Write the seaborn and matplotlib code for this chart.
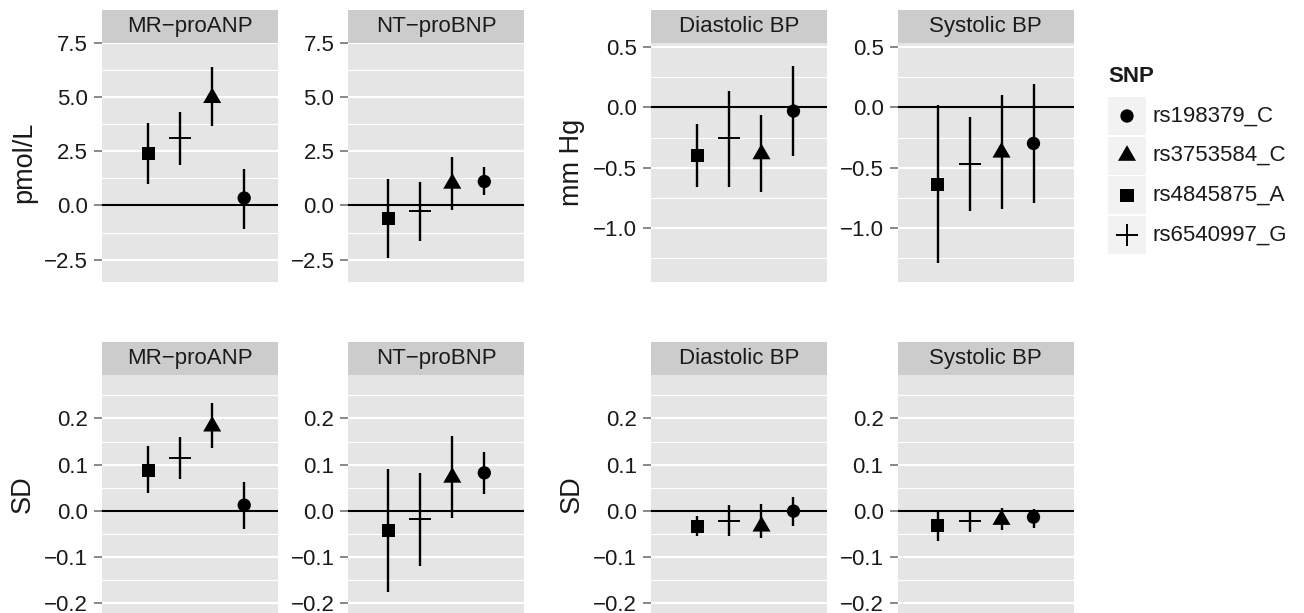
import numpy as np
import pandas as pd
import matplotlib
matplotlib.use("Agg")
from matplotlib import pyplot as plt
from matplotlib.ticker import MultipleLocator, FuncFormatter
import seaborn as sns

# SNPs in the left-to-right order used inside each panel
snp_order = ["rs4845875_A", "rs6540997_G", "rs3753584_C", "rs198379_C"]
legend_order = ["rs198379_C", "rs3753584_C", "rs4845875_A", "rs6540997_G"]

# absolute effects (pmol/L and mm Hg)
mr_abs = [2.39, 3.12, 4.96, 0.34]
mr_abs_lo = [1.00, 1.85, 3.66, -1.08]
mr_abs_hi = [3.78, 4.32, 6.36, 1.70]
nt_abs = [-0.61, -0.26, 1.01, 1.10]
nt_abs_lo = [-2.42, -1.64, -0.20, 0.49]
nt_abs_hi = [1.20, 1.10, 2.25, 1.76]
dbp_abs = [-0.40, -0.25, -0.386, -0.03]
dbp_abs_lo = [-0.66, -0.66, -0.70, -0.40]
dbp_abs_hi = [-0.14, 0.14, -0.06, 0.34]
sbp_abs = [-0.635, -0.467, -0.372, -0.298]
sbp_abs_lo = [-1.29, -0.86, -0.84, -0.79]
sbp_abs_hi = [0.02, -0.08, 0.10, 0.19]

# standardised effects (SD)
mr_sd = [0.088, 0.114, 0.183, 0.012]
mr_sd_lo = [0.038, 0.068, 0.136, -0.040]
mr_sd_hi = [0.140, 0.159, 0.234, 0.063]
nt_sd = [-0.042, -0.019, 0.072, 0.082]
nt_sd_lo = [-0.176, -0.119, -0.015, 0.036]
nt_sd_hi = [0.090, 0.081, 0.163, 0.127]
dbp_sd = [-0.035, -0.022, -0.034, -0.001]
dbp_sd_lo = [-0.056, -0.056, -0.060, -0.033]
dbp_sd_hi = [-0.012, 0.012, 0.014, 0.029]
sbp_sd = [-0.033, -0.022, -0.0195, -0.014]
sbp_sd_lo = [-0.066, -0.046, -0.042, -0.038]
sbp_sd_hi = [-0.001, -0.002, 0.005, 0.004]

# marker style per SNP: (marker, area pt^2, linewidth)
marker_style = {
    "rs198379_C": ("o", 92, 0),
    "rs3753584_C": ((3, 0, 0), 225, 0),
    "rs4845875_A": ("s", 88, 0),
    "rs6540997_G": ("+", 256, 1.4),
}

PANEL_BG = "#e5e5e5"
STRIP_BG = "#cccccc"
TEXT = "#1a1a1a"

sns.set_style("white")
plt.rcParams["font.family"] = ["Liberation Sans", "DejaVu Sans"]
plt.rcParams["axes.unicode_minus"] = True

W, H = 1304, 613
fig = plt.figure(figsize=(W / 100, H / 100), dpi=100)


def px_axes(left, top, right, bottom):
    return fig.add_axes([left / W, 1 - bottom / H, (right - left) / W, (bottom - top) / H])


def fmt(v, pos):
    if abs(v) < 1e-9:
        v = 0.0
    return f"{v:.1f}".replace("-", "\u2212")


def draw_panel(ax, est, lo, hi, ylim, step, xlim):
    df = pd.DataFrame({"SNP": snp_order, "pos": np.arange(1, len(snp_order) + 1),
                       "est": est, "lo": lo, "hi": hi})
    ax.set_facecolor(PANEL_BG)
    # ggplot-like grid: thick major, thin minor
    ax.yaxis.set_major_locator(MultipleLocator(step))
    ax.yaxis.set_minor_locator(MultipleLocator(step / 2))
    ax.grid(which="major", axis="y", color="white", lw=1.6, zorder=0)
    ax.grid(which="minor", axis="y", color="white", lw=0.8, zorder=0)
    ax.set_axisbelow(True)
    ax.axhline(0, color="black", lw=1.5, zorder=2)
    ax.vlines(df["pos"], df["lo"], df["hi"], color="black", lw=1.7, zorder=3)
    for snp in snp_order:
        mk, s, lw = marker_style[snp]
        sub = df[df["SNP"] == snp]
        if lw:
            sns.scatterplot(data=sub, x="pos", y="est", marker=mk, s=s, color="black",
                            linewidth=lw, ax=ax, zorder=4, legend=False)
        else:
            sns.scatterplot(data=sub, x="pos", y="est", marker=mk, s=s, color="black",
                            edgecolor="none", linewidth=0, ax=ax, zorder=4, legend=False)
    ax.set_xlim(*xlim)
    ax.set_ylim(*ylim)
    ax.yaxis.set_major_formatter(FuncFormatter(fmt))
    ax.tick_params(axis="y", which="major", length=6, width=1.3, color="#7f7f7f",
                   labelsize=16, labelcolor=TEXT, pad=4, left=True)
    ax.tick_params(axis="y", which="minor", length=0)
    ax.set_xticks([])
    ax.set_xlabel("")
    ax.set_ylabel("")
    for sp in ax.spines.values():
        sp.set_visible(False)


def draw_strip(left, top, right, bottom, title):
    sax = px_axes(left, top, right, bottom)
    sax.set_facecolor(STRIP_BG)
    sax.set_xticks([])
    sax.set_yticks([])
    for sp in sax.spines.values():
        sp.set_visible(False)
    sax.text(0.5, 0.5, title, ha="center", va="center", fontsize=16, color=TEXT,
             transform=sax.transAxes)


columns = [(101.7, 277.7), (348.3, 524.3), (651.0, 827.0), (897.5, 1073.5)]
xlims = [(-0.453, 5.047), (-0.25, 5.25), (-0.453, 5.047), (-0.25, 5.25)]
rows = [((10, 42.7), (42.7, 282)), ((342.3, 375.3), (375.3, 613))]

panels = [
    (0, 0, "MR\u2212proANP", mr_abs, mr_abs_lo, mr_abs_hi, (-3.53, 7.5), 2.5),
    (0, 1, "NT\u2212proBNP", nt_abs, nt_abs_lo, nt_abs_hi, (-3.53, 7.5), 2.5),
    (0, 2, "Diastolic BP", dbp_abs, dbp_abs_lo, dbp_abs_hi, (-1.445, 0.536), 0.5),
    (0, 3, "Systolic BP", sbp_abs, sbp_abs_lo, sbp_abs_hi, (-1.445, 0.536), 0.5),
    (1, 0, "MR\u2212proANP", mr_sd, mr_sd_lo, mr_sd_hi, (-0.222, 0.2937), 0.1),
    (1, 1, "NT\u2212proBNP", nt_sd, nt_sd_lo, nt_sd_hi, (-0.222, 0.2937), 0.1),
    (1, 2, "Diastolic BP", dbp_sd, dbp_sd_lo, dbp_sd_hi, (-0.222, 0.2937), 0.1),
    (1, 3, "Systolic BP", sbp_sd, sbp_sd_lo, sbp_sd_hi, (-0.222, 0.2937), 0.1),
]

for r, c, title, est, lo, hi, ylim, step in panels:
    (st, sb), (pt, pb) = rows[r]
    left, right = columns[c]
    ax = px_axes(left, pt, right, pb)
    draw_panel(ax, est, lo, hi, ylim, step, xlims[c])
    draw_strip(left, st, right, sb, title)

# y axis titles
for x, y, label in [(24, 162, "pmol/L"), (572, 162, "mm Hg"), (23, 494, "SD"), (572, 494, "SD")]:
    fig.text(x / W, 1 - y / H, label, rotation=90, ha="center", va="center",
             fontsize=19.5, color=TEXT)

# legend drawn by hand to get ggplot-style key boxes
lax = px_axes(1100, 60, 1300, 260)
lax.set_xlim(1100, 1300)
lax.set_ylim(260, 60)
lax.axis("off")
lax.text(1108, 77, "SNP", fontsize=16, fontweight="bold", color=TEXT, va="center", ha="left")
for i, snp in enumerate(legend_order):
    yc = 116 + 39.6 * i
    lax.add_patch(plt.Rectangle((1108, yc - 19), 37.7, 38, facecolor="#f2f2f2", edgecolor="none"))
    mk, s, lw = marker_style[snp]
    lax.scatter([1127], [yc], marker=mk, s=s, color="black",
                linewidths=lw if lw else 0, edgecolors="black" if lw else "none")
    lax.text(1152.5, yc, snp, fontsize=16, color=TEXT, va="center", ha="left")

fig.savefig("out.png", dpi=100)
